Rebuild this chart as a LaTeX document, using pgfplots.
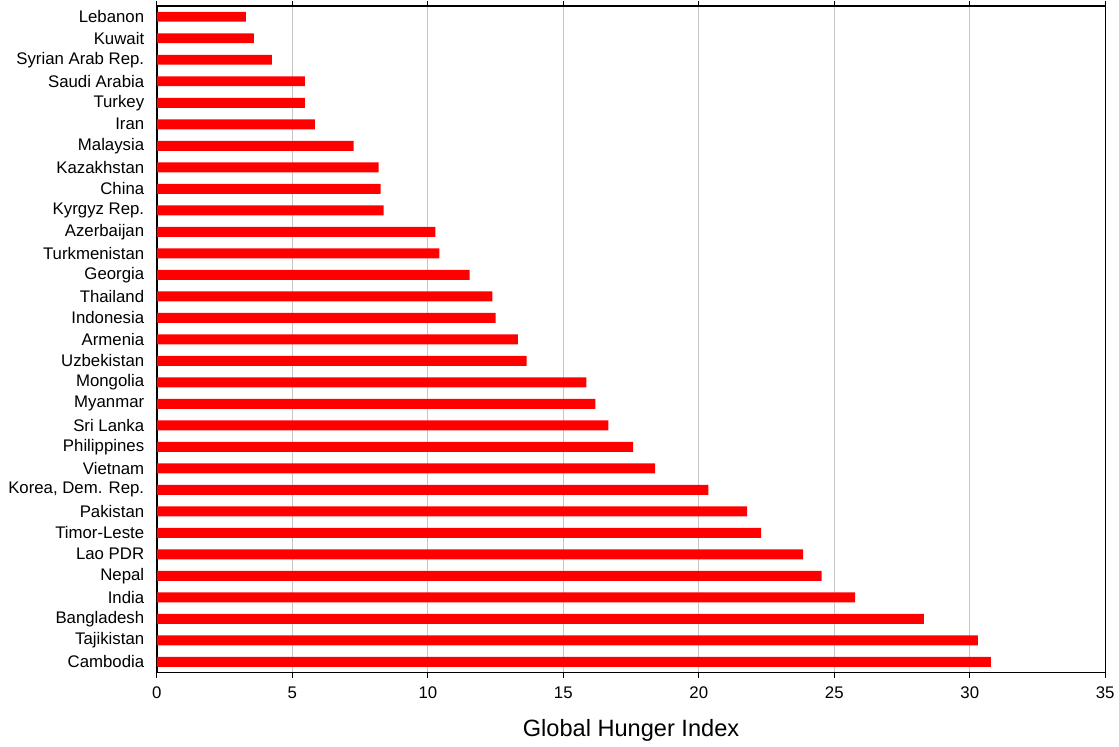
\documentclass[border=0pt]{standalone}
\usepackage{fontspec}
\setmainfont{Liberation Sans}
\usepackage{pgfplots}
\pgfplotsset{compat=1.18}
\begin{document}
\begin{tikzpicture}
\begin{axis}[
  scale only axis,
  width=711.75pt, height=500.25pt,
  xbar, bar width=7.5pt,
  xmin=0, xmax=35, ymin=-0.5, ymax=30.5,
  y dir=reverse,
  xtick={0,5,...,35},
  ytick={0,...,30},
  yticklabels={Lebanon,Kuwait,Syrian Arab Rep.,Saudi Arabia,Turkey,Iran,Malaysia,Kazakhstan,China,Kyrgyz Rep.,Azerbaijan,Turkmenistan,Georgia,Thailand,Indonesia,Armenia,Uzbekistan,Mongolia,Myanmar,Sri Lanka,Philippines,Vietnam,{Korea, Dem. Rep.},Pakistan,Timor-Leste,Lao PDR,Nepal,India,Bangladesh,Tajikistan,Cambodia},
  xmajorgrids, major grid style={gray!45, line width=0.8pt},
  axis line style={black, line width=1pt},
  x tick style={black, line width=0.8pt},
  y tick style={draw=none},
  xtick align=outside, major tick length=4pt,
  ticklabel style={font=\fontsize{12.6}{14}\selectfont},
  /pgf/number format/assume math mode=true,
  xticklabel style={yshift=-3pt},
  yticklabel style={xshift=-2pt},
  xlabel={Global Hunger Index},
  xlabel style={font=\fontsize{17.7}{20}\selectfont, yshift=-9pt},
]
\addplot[fill=red, draw=none] coordinates {
(3.28,0) (3.58,1) (4.24,2) (5.46,3) (5.46,4) (5.83,5) (7.26,6) (8.18,7) (8.26,8) (8.37,9)
(10.28,10) (10.43,11) (11.54,12) (12.38,13) (12.50,14) (13.32,15) (13.65,16) (15.85,17)
(16.18,18) (16.66,19) (17.58,20) (18.39,21) (20.35,22) (21.78,23) (22.30,24) (23.85,25)
(24.53,26) (25.77,27) (28.31,28) (30.30,29) (30.78,30)
};
\end{axis}
\path ([shift={(-117.75pt,-54.75pt)}]current axis.south west) rectangle ([shift={(9.75pt,4.5pt)}]current axis.north east);
\end{tikzpicture}
\end{document}
